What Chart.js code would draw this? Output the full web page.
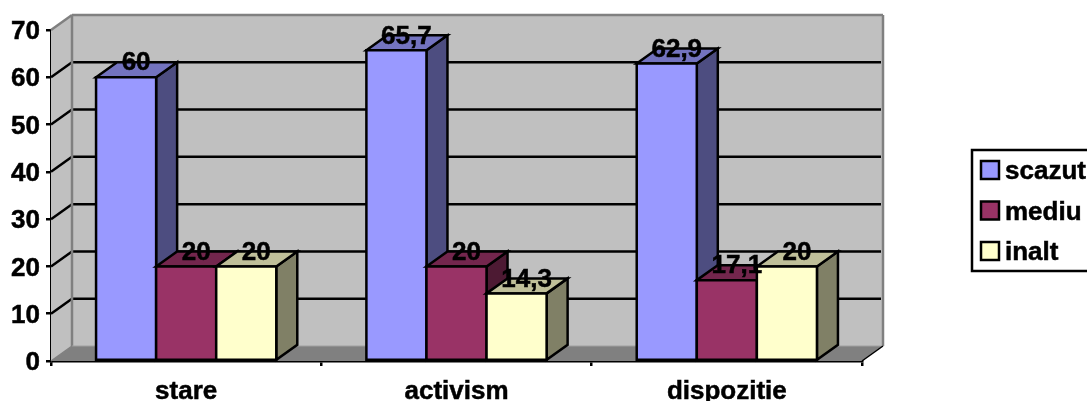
<!DOCTYPE html>
<html>
<head>
<meta charset="utf-8">
<style>
  html, body { margin: 0; padding: 0; background: #fff; overflow: hidden; }
  canvas { display: block; }
</style>
<script src="https://cdn.jsdelivr.net/npm/chart.js@4/dist/chart.umd.min.js"></script>
</head>
<body>
<canvas id="chart" width="1087" height="401"></canvas>
<script>
var categories = ['stare', 'activism', 'dispozitie'];
var scazut = [60, 65.7, 62.9];
var mediu = [20, 20, 17.1];
var inalt = [20, 14.3, 20];
var yTicks = [0, 10, 20, 30, 40, 50, 60, 70];

var FONT_FAMILY = '"Liberation Sans", Arial, sans-serif';
var FONT = 'bold 26px ' + FONT_FAMILY;
var LINE = 2.5;
// how far the back wall sits behind the front plane
var DEPTH_X = 21;
var DEPTH_Y = -15;

function shade(hex, k) {
    var n = parseInt(hex.slice(1), 16);
    var r = Math.round((n >> 16 & 255) * k);
    var g = Math.round((n >> 8 & 255) * k);
    var b = Math.round((n & 255) * k);
    return 'rgb(' + r + ',' + g + ',' + b + ')';
}

function poly(ctx, pts, fill, stroke, width) {
    ctx.beginPath();
    ctx.moveTo(pts[0][0], pts[0][1]);
    for (var i = 1; i < pts.length; i++) ctx.lineTo(pts[i][0], pts[i][1]);
    ctx.closePath();
    if (fill) { ctx.fillStyle = fill; ctx.fill(); }
    if (stroke) { ctx.strokeStyle = stroke; ctx.lineWidth = width; ctx.stroke(); }
}

function line(ctx, x1, y1, x2, y2, color, width) {
    ctx.beginPath();
    ctx.moveTo(x1, y1);
    ctx.lineTo(x2, y2);
    ctx.strokeStyle = color;
    ctx.lineWidth = width;
    ctx.stroke();
}

// text with a thin outline, the plain bold face is a bit light at this size
function boldText(ctx, text, x, y) {
    ctx.strokeStyle = '#000';
    ctx.lineWidth = 0.5;
    ctx.fillStyle = '#000';
    ctx.strokeText(text, x, y);
    ctx.fillText(text, x, y);
}

// walls, floor and the gridlines that run around them
function drawWalls(chart) {
    var ctx = chart.ctx, a = chart.chartArea, y = chart.scales.y;
    var bx = a.left + DEPTH_X, rx = a.right + DEPTH_X, by = a.bottom + DEPTH_Y, ty = a.top + DEPTH_Y;
    poly(ctx, [[bx, ty], [rx, ty], [rx, by], [bx, by]], '#c0c0c0');
    poly(ctx, [[a.left, a.top], [bx, ty], [bx, by], [a.left, a.bottom]], '#c0c0c0');
    poly(ctx, [[a.left, a.bottom], [bx, by], [rx, by], [a.right, a.bottom]], '#808080');
    yTicks.forEach(function(t) {
        if (t === 0 || t === 70) return;
        var py = y.getPixelForValue(t);
        line(ctx, a.left, py, bx, py + DEPTH_Y, '#000', LINE);
        line(ctx, bx, py + DEPTH_Y, rx - 2, py + DEPTH_Y, '#000', LINE);
    });
    line(ctx, a.left, a.top, bx, ty, '#808080', LINE);
    line(ctx, bx, ty, rx, ty, '#808080', LINE);
    line(ctx, bx, ty, bx, by, '#808080', LINE);
    line(ctx, rx, ty, rx, by, '#808080', LINE);
    line(ctx, bx, by, rx, by, '#a0a0a0', 1);
    line(ctx, a.left, a.bottom, bx, by, '#808080', 1.5);
    line(ctx, a.right, a.bottom, rx, by, '#000', 1.5);
}

// one bar: the side and top faces behind the front rectangle from the library
function drawBar(chart, bar, color) {
    var ctx = chart.ctx;
    var l = bar.x - bar.width / 2, r = bar.x + bar.width / 2, t = bar.y, b = bar.base;
    poly(ctx, [[r, t], [r + DEPTH_X, t + DEPTH_Y], [r + DEPTH_X, b + DEPTH_Y], [r, b]], shade(color, 0.5), '#000', LINE);
    poly(ctx, [[l, t], [l + DEPTH_X, t + DEPTH_Y], [r + DEPTH_X, t + DEPTH_Y], [r, t]], shade(color, 0.75), '#000', LINE);
    bar.draw(ctx);
    poly(ctx, [[l, t], [r, t], [r, b], [l, b]], null, '#000', LINE);
}

var boxes3d = {
    id: 'boxes3d',
    beforeDatasetsDraw: function(chart) {
        var ctx = chart.ctx;
        ctx.save();
        ctx.lineJoin = 'miter';
        drawWalls(chart);
        // painted left to right so each bar covers the side of the one before it
        chart.data.datasets.forEach(function(ds, i) {
            chart.getDatasetMeta(i).data.forEach(function(bar) {
                drawBar(chart, bar, ds.backgroundColor);
            });
        });
        ctx.restore();
    },
    beforeDatasetDraw: function() {
        return false;
    },
    afterDatasetsDraw: function(chart) {
        var ctx = chart.ctx;
        ctx.save();
        ctx.font = FONT;
        ctx.textAlign = 'center';
        ctx.textBaseline = 'middle';
        chart.data.datasets.forEach(function(ds, i) {
            chart.getDatasetMeta(i).data.forEach(function(bar, j) {
                boldText(ctx, String(ds.data[j]).replace('.', ','), bar.x + 10, bar.y - 14);
            });
        });
        ctx.restore();
    },
    afterDraw: function(chart) {
        // legend box, runs off the right edge of the canvas
        var ctx = chart.ctx;
        ctx.save();
        ctx.fillStyle = '#fff';
        ctx.fillRect(972, 150, 130, 121);
        ctx.strokeStyle = '#000';
        ctx.lineWidth = LINE;
        ctx.strokeRect(972, 150, 130, 121);
        ctx.font = FONT;
        ctx.textBaseline = 'middle';
        chart.data.datasets.forEach(function(ds, i) {
            var top = 161 + i * 40.5;
            ctx.fillStyle = ds.backgroundColor;
            ctx.fillRect(981, top, 18, 18);
            ctx.strokeStyle = '#000';
            ctx.lineWidth = LINE;
            ctx.strokeRect(981, top, 18, 18);
            boldText(ctx, ds.label, 1005, top + 11);
        });
        ctx.restore();
    }
};

new Chart(document.getElementById('chart'), {
    type: 'bar',
    data: {
        labels: categories,
        datasets: [
            { label: 'scazut', data: scazut, backgroundColor: '#9999ff' },
            { label: 'mediu', data: mediu, backgroundColor: '#993366' },
            { label: 'inalt', data: inalt, backgroundColor: '#ffffcc' }
        ]
    },
    options: {
        responsive: false,
        animation: false,
        layout: {
            autoPadding: false,
            padding: { left: 0, top: 30, right: 225, bottom: 0 }
        },
        datasets: {
            bar: { barPercentage: 1, categoryPercentage: 3 / 4.5, borderWidth: 0 }
        },
        plugins: {
            legend: { display: false },
            tooltip: { enabled: false }
        },
        scales: {
            x: {
                afterFit: function(scale) { scale.height = 40; },
                grid: { drawOnChartArea: false, color: '#000', lineWidth: LINE, tickLength: 5 },
                border: { color: '#000', width: LINE },
                ticks: { color: '#000', font: { family: FONT_FAMILY, size: 26, weight: 'bold' }, padding: 10, maxRotation: 0, textStrokeColor: '#000', textStrokeWidth: 0.5 }
            },
            y: {
                min: 0,
                max: 70,
                afterFit: function(scale) { scale.width = 51; },
                afterBuildTicks: function(scale) {
                    scale.ticks = yTicks.map(function(v) { return { value: v }; });
                },
                grid: { drawOnChartArea: false, color: '#000', lineWidth: LINE, tickLength: 5 },
                border: { color: '#000', width: LINE },
                ticks: { color: '#000', font: { family: FONT_FAMILY, size: 26, weight: 'bold' }, padding: 6, labelOffset: 2, textStrokeColor: '#000', textStrokeWidth: 0.5 }
            }
        }
    },
    plugins: [boxes3d]
});
</script>
</body>
</html>
